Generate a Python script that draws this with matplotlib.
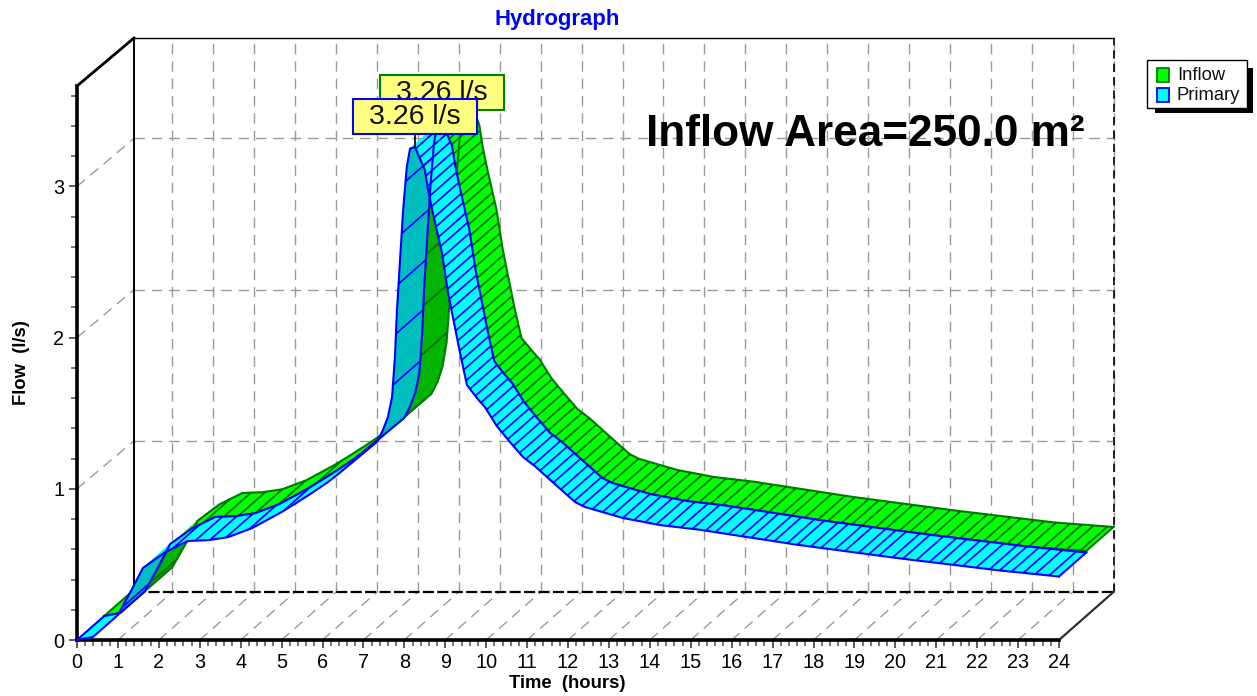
import numpy as np
import matplotlib
matplotlib.use("Agg")
import matplotlib.pyplot as plt
from matplotlib.collections import PolyCollection, LineCollection
from matplotlib.patches import Rectangle
from matplotlib.transforms import IdentityTransform

plt.rcParams['font.family'] = ['Liberation Sans', 'DejaVu Sans']

# ---- data ----
time_hours = [0, 0.39, 1.0, 1.37, 1.61, 2.15, 2.71, 3.2, 3.69, 4.28, 4.96, 5.28, 5.7, 6.11, 6.35, 6.84, 7.33, 7.48,
              7.6, 7.7, 7.77, 7.82, 7.89, 7.97, 8.06, 8.14, 8.26, 8.5, 8.58, 8.7, 8.92, 9.07, 9.36, 9.53, 9.775,
              9.97, 10.26, 10.58, 10.9, 11.19, 11.56, 12.17, 12.41, 13.34, 14.25, 15.2, 17.6, 20.1, 22.55, 24.0]
primary_flow = [0, 0.02, 0.165, 0.35, 0.476, 0.58, 0.655, 0.66, 0.68, 0.74, 0.84, 0.893, 0.965, 1.04, 1.09, 1.20, 1.31, 1.39,
                1.475, 1.607, 1.87, 2.18, 2.49, 2.84, 3.13, 3.25, 3.26, 3.11, 2.976, 2.82, 2.56, 2.295, 1.90, 1.687, 1.60,
                1.54, 1.415, 1.31, 1.21, 1.15, 1.06, 0.913, 0.88, 0.807, 0.76, 0.73, 0.63, 0.54, 0.46, 0.42]
inflow_flow = [0, 0.02, 0.165, 0.34, 0.47, 0.58, 0.655, 0.66, 0.68, 0.74, 0.84, 0.893, 0.965, 1.04, 1.09, 1.20, 1.31, 1.39,
               1.49, 1.65, 1.90, 2.2, 2.5, 2.84, 3.12, 3.24, 3.26, 3.09, 2.95, 2.79, 2.53, 2.27, 1.88, 1.68, 1.60,
               1.54, 1.415, 1.31, 1.21, 1.15, 1.06, 0.913, 0.88, 0.807, 0.76, 0.73, 0.63, 0.54, 0.46, 0.43]
x_ticks = list(range(0, 25))
y_ticks = [0, 1, 2, 3]
series_names = ['Inflow', 'Primary']
peak_label = '3.26 l/s'
peak_time = 8.26
peak_flow = 3.26

W, H = 1257, 696
fig = plt.figure(figsize=(W / 100, H / 100), dpi=100)
L, R, B, T = 77, 1059, 640, 86
ax = fig.add_axes([L / W, 1 - B / H, (R - L) / W, (B - T) / H])
ax.patch.set_alpha(0)
PX_T = (R - L) / 24.0
PX_Y = 151.2
ax.set_xlim(0, 24)
ax.set_ylim(0, (B - T) / PX_Y)
YTOP = (B - T) / PX_Y
# depth vector of the pseudo 3-D box, in data units
DPX, DPY = 54.5, 48.0
DT = DPX / PX_T
DY = DPY / PX_Y
WALL = 57 / PX_T

for s in ('top', 'right'):
    ax.spines[s].set_visible(False)
for s in ('left', 'bottom'):
    ax.spines[s].set_linewidth(2.6)
ax.set_xticks(x_ticks)
ax.set_yticks(y_ticks)
ax.set_xticks(np.arange(0, 24.01, 0.2), minor=True)
ax.set_yticks(np.arange(0, YTOP, 0.2), minor=True)
ax.tick_params(axis='both', which='major', length=6, width=1.2, color='#404040', labelsize=14.3, pad=3)
ax.tick_params(axis='both', which='minor', length=4, width=1.2, color='#606060')
ax.set_xlabel('Time  (hours)', fontweight='bold', fontsize=13.3, labelpad=0)
ax.xaxis.set_label_coords((567 - L) / (R - L), -(675 - B) / (B - T))
ax.set_ylabel('Flow  (l/s)', fontweight='bold', fontsize=13.3)
ax.yaxis.set_label_coords(-(L - 30) / (R - L), (B - 363) / (B - T))
fig.text(557 / W, 1 - 20 / H, 'Hydrograph', color='#0000FF', fontweight='bold', fontsize=15.9,
         ha='center', va='center')

GRID = dict(color='#9a9a9a', lw=1.0, dashes=(7.5, 5), clip_on=False, zorder=1)
for t in x_ticks[1:]:
    ax.plot([t + DT, t + DT], [DY, YTOP + DY], **GRID)
    ax.plot([t, t + DT], [0, DY], **GRID)
for y in y_ticks[1:]:
    ax.plot([WALL, 24 + DT], [y + DY, y + DY], **GRID)
    ax.plot([0, WALL], [y, y + DY], **GRID)
# box
K = dict(color='k', clip_on=False, zorder=1.5)
ax.plot([0, WALL], [YTOP, YTOP + DY], lw=2.0, **K)
ax.plot([WALL, WALL], [DY, YTOP + DY], lw=1.4, **K)
ax.plot([WALL, 24 + DT], [YTOP + DY, YTOP + DY], lw=1.0, **K)
ax.plot([24 + DT, 24 + DT], [DY, YTOP + DY], lw=1.2, dashes=(5, 3), **K)
ax.plot([WALL, 24 + DT], [DY, DY], lw=1.6, dashes=(5, 1.5), **K)
ax.plot([24, 24 + DT], [0, DY], lw=1.6, color='#303030', clip_on=False, zorder=1.5)


def ribbon(t, y, d0, d1, top, under, edge, hatch, z):
    t = np.asarray(t, float)
    y = np.asarray(y, float)
    x0, y0 = t + d0 * DT, y + d0 * DY
    x1, y1 = t + d1 * DT, y + d1 * DY
    polys, cols = [], []
    lines = []
    depth_len = np.hypot(DPX, DPY)
    acc = 0.0
    for i in range(len(t) - 1):
        q = [(x0[i], y0[i]), (x0[i + 1], y0[i + 1]), (x1[i + 1], y1[i + 1]), (x1[i], y1[i])]
        polys.append(q)
        dxp = (t[i + 1] - t[i]) * PX_T
        dyp = (y[i + 1] - y[i]) * PX_Y
        # cross product with the depth vector gives the visible side
        cross = dxp * DPY - dyp * DPX
        is_under = cross < 0
        cols.append(under if is_under else top)
        spacing = 36.0 if is_under else 9.0
        perp = abs(cross) / depth_len
        n = 30
        for k in range(n):
            acc += perp / n / spacing
            if acc >= 1:
                acc -= 1
                f = (k + 1) / n
                tt = t[i] + f * (t[i + 1] - t[i])
                yy = y[i] + f * (y[i + 1] - y[i])
                lines.append([(tt + d0 * DT, yy + d0 * DY), (tt + d1 * DT, yy + d1 * DY)])
    ax.add_collection(PolyCollection(polys, facecolors=cols, edgecolors=cols, linewidths=0.3,
                                     clip_on=False, zorder=z))
    ax.add_collection(LineCollection(lines, colors=hatch, linewidths=1.25, clip_on=False, zorder=z + 0.1))
    for xa, ya in ((x0, y0), (x1, y1)):
        ax.plot(xa, ya, color=edge, lw=1.5, clip_on=False, zorder=z + 0.2, solid_joinstyle='round')
    for i in (0, -1):
        ax.plot([x0[i], x1[i]], [y0[i], y1[i]], color=edge, lw=1.5, clip_on=False, zorder=z + 0.2)


ribbon(time_hours, inflow_flow, 0.5, 1.0, '#00FF00', '#00B400', '#007A00', '#006E00', 2)
ribbon(time_hours, primary_flow, 0.0, 0.5, '#00FFFF', '#00BEBE', '#0000FF', '#0000FF', 3)


def callout(t, y, d, edge, z):
    px, py = ax.transData.transform((t + d * DT, y + d * DY))
    bw, bh, gap = 124, 35, 13
    ax.plot([t + d * DT, t + d * DT], [y + d * DY, y + d * DY + gap / PX_Y], color='k', lw=1.2,
            clip_on=False, zorder=z)
    ax.add_patch(Rectangle((px - bw / 2, py + gap), bw, bh, transform=IdentityTransform(), fc='#FFFF80',
                           ec=edge, lw=1.5, clip_on=False, zorder=z + 0.1))
    ax.text(px, py + gap + bh / 2, peak_label, transform=IdentityTransform(), ha='center', va='center',
            fontsize=20.5, color='#101010', clip_on=False, zorder=z + 0.2)


callout(peak_time, peak_flow, 0.5, '#008000', 4)
callout(peak_time, peak_flow, 0.0, '#0000FF', 5)

fig.text(1085 / W, 1 - 134 / H, 'Inflow Area=250.0 m²', fontweight='bold', fontsize=31.8, color='k',
         ha='right', va='center', zorder=10)


# legend box with a hard drop shadow
def pixel_rect(x0, y0, x1, y1, fc, ec, lw, z):
    fig.add_artist(Rectangle((x0, H - y1), x1 - x0, y1 - y0, transform=IdentityTransform(), fc=fc, ec=ec,
                             lw=lw, zorder=z))


pixel_rect(1155, 68, 1253, 113, 'k', 'k', 0, 20)
pixel_rect(1147, 60, 1247, 108, 'w', 'k', 1.0, 21)
legend_rows = [(75, '#00FF00', '#008000'), (95, '#00FFFF', '#0000FF')]
for (row_y, fc, ec), name in zip(legend_rows, series_names):
    pixel_rect(1157, row_y - 7, 1169, row_y + 7, fc, ec, 1.3, 22)
    fig.text(1177 / W, 1 - row_y / H, name, fontsize=13.2, ha='left', va='center', color='#101010', zorder=23)

fig.savefig('out.png', dpi=100)
